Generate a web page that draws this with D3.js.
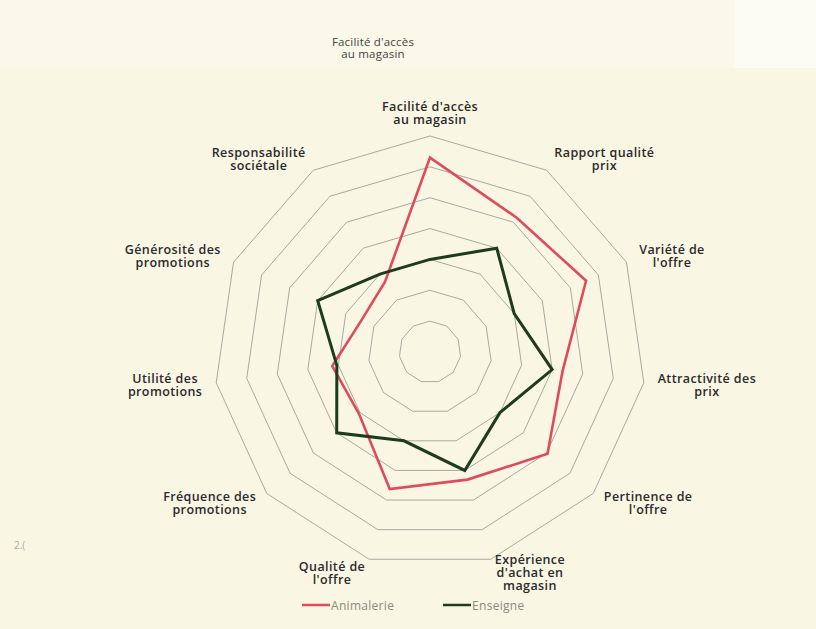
<!DOCTYPE html>
<html>
<head>
<meta charset="utf-8">
<script src="https://cdn.jsdelivr.net/npm/d3@7"></script>
<style>
  body { margin: 0; background: #f9f6e4; }
  svg { display: block; }
  .axis-label { font-family: "Open Sans", sans-serif; font-size: 12.5px; font-weight: 600; letter-spacing: 0.4px; fill: #2b2b2b; }
  .legend-label { font-family: "Open Sans", sans-serif; font-size: 12px; letter-spacing: 0.3px; fill: #8a8a80; }
</style>
</head>
<body>
<div id="chart"></div>
<script>
const axes = [
  ["Facilité d'accès", "au magasin"],
  ["Rapport qualité", "prix"],
  ["Variété de", "l'offre"],
  ["Attractivité des", "prix"],
  ["Pertinence de", "l'offre"],
  ["Expérience", "d'achat en", "magasin"],
  ["Qualité de", "l'offre"],
  ["Fréquence des", "promotions"],
  ["Utilité des", "promotions"],
  ["Générosité des", "promotions"],
  ["Responsabilité", "sociétale"]
];
const animalerie = [6.3, 5.18, 5.56, 4.34, 5.04, 4.31, 4.63, 3.05, 3.2, 2.45, 2.7];
const enseigne = [3, 4, 3, 4, 3, 4, 3, 4, 3.05, 4, 3];
const seriesNames = ["Animalerie", "Enseigne"];
const colors = ["#e04b5c", "#1f3b1e"];
const rings = d3.range(1, 8);

const width = 816, height = 629;
const cx = 430, cy = 352;

const svg = d3.select('#chart').append('svg')
  .attr('width', width).attr('height', height);

// scanned page background
svg.append('rect').attr('width', width).attr('height', height).attr('fill', '#f9f6e4');
svg.append('rect').attr('width', 735).attr('height', 68).attr('fill', '#faf8e9');
svg.append('rect').attr('x', 735).attr('width', width - 735).attr('height', 68).attr('fill', '#fdfcf4');

// ghost label from the page behind
svg.append('text')
  .attr('text-anchor', 'middle')
  .attr('y', 46)
  .style('font-family', '"Open Sans", sans-serif')
  .style('font-size', '11.5px')
  .style('letter-spacing', '0.2px')
  .style('fill', '#444')
  .selectAll('tspan')
  .data(["Facilité d'accès", "au magasin"])
  .enter().append('tspan')
  .attr('x', 373).attr('dy', (d, i) => i ? 12 : 0)
  .text(d => d);

svg.append('text')
  .attr('x', 14).attr('y', 549)
  .style('font-family', '"Open Sans", sans-serif')
  .style('font-size', '10px')
  .style('fill', '#aaa')
  .text('2.(');

const g = svg.append('g').attr('transform', `translate(${cx},${cy})`);

const r = d3.scaleLinear().domain([0, 7]).range([0, 216]);
const angle = i => i * 2 * Math.PI / axes.length;

const radial = d3.lineRadial()
  .angle((d, i) => angle(i))
  .radius(d => r(d))
  .curve(d3.curveLinearClosed);

// polygon grid rings
g.selectAll('.ring')
  .data(rings)
  .enter()
  .append('path')
  .attr('class', 'ring')
  .attr('d', v => radial(axes.map(() => v)))
  .attr('fill', 'none')
  .attr('stroke', '#a9a9a2')
  .attr('stroke-width', 1);

// series
g.selectAll('.series')
  .data([animalerie, enseigne])
  .enter()
  .append('path')
  .attr('class', 'series')
  .attr('d', d => radial(d))
  .attr('fill', 'none')
  .attr('stroke', (d, i) => colors[i])
  .attr('stroke-width', (d, i) => i ? 3 : 2.6)
  .attr('stroke-linejoin', 'miter');

// axis labels
const labelR = 230;
const lineH = 13;
axes.forEach((lines, i) => {
  const a = angle(i);
  const s = Math.sin(a), c = Math.cos(a);
  const px = s * labelR;
  const py = -c * labelR;
  const t = g.append('text').attr('class', 'axis-label').attr('text-anchor', 'middle');
  lines.forEach((l, k) => t.append('tspan').attr('dy', k ? lineH : 0).text(l));
  let maxW = 0;
  t.selectAll('tspan').each(function () { maxW = Math.max(maxW, this.getComputedTextLength()); });
  const side = Math.abs(s) < 0.01 ? 0 : Math.sign(s);
  const x = px + side * maxW / 2;
  // vertical centre of the block (cap top to last baseline)
  const yc = side === 0 ? py - 9 : py;
  const blockH = (lines.length - 1) * lineH + 9;
  t.attr('y', yc - blockH / 2 + 9);
  t.selectAll('tspan').attr('x', x);
});

// legend
const legend = svg.append('g');
const legendX = [302, 443];
seriesNames.forEach((name, i) => {
  legend.append('line')
    .attr('x1', legendX[i]).attr('x2', legendX[i] + 28)
    .attr('y1', 605).attr('y2', 605)
    .attr('stroke', colors[i]).attr('stroke-width', 2.5);
  legend.append('text')
    .attr('class', 'legend-label')
    .attr('x', legendX[i] + 29).attr('y', 609.5)
    .text(name);
});
</script>
</body>
</html>
